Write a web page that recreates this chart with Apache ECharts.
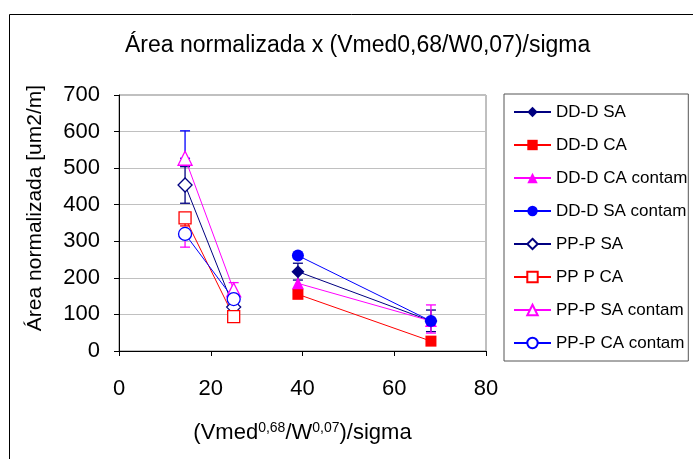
<!DOCTYPE html>
<html>
<head>
<meta charset="utf-8">
<script src="https://cdn.jsdelivr.net/npm/echarts@6/dist/echarts.min.js"></script>
<style>html,body{margin:0;padding:0;background:#fff}#c{width:693px;height:459px}</style>
</head>
<body>
<div id="c"></div>
<script>
// ---- data ----
const seriesNames = ['DD-D SA','DD-D CA','DD-D CA contam','DD-D SA contam','PP-P SA','PP P CA','PP-P SA contam','PP-P CA contam'];
const ddX = [39, 68];
const ppX = [14.4, 25];
const ddSA = [217, 82];
const ddCA = [155, 27];
const ddCAcontam = [185, 82];
const ddSAcontam = [261, 82];
const ppSA = [454, 120];
const ppCA = [364, 94];
const ppSAcontam = [527, 167];
const ppCAcontam = [320, 142];
// error bars: [x, low, high]
const errNavy = [[14.4, 404, 504], [25, 117, 132], [39, 194, 240], [68, 53, 112]];
const errMagenta = [[14.4, 284, 320], [25, 150, 187], [68, 49, 126]];
const errBlue = [[14.4, 527, 602]];
const errRed = [[14.4, 342, 364]];
const xTicks = [0, 20, 40, 60, 80];
const yTicks = [0, 100, 200, 300, 400, 500, 600, 700];

const FONT = '"Liberation Sans", Arial, sans-serif';
const NAVY = '#000080', RED = '#FF0000', MAG = '#FF00FF', BLUE = '#0000FF';

function pts(xs, ys) { return xs.map((x, i) => [x, ys[i]]); }

function lineSeries(name, xs, ys, color, symbol, size, filled) {
  return {
    name, type: 'line', data: pts(xs, ys),
    symbol, symbolSize: size, showSymbol: true,
    lineStyle: { color, width: 1 },
    itemStyle: { color: filled ? color : '#fff', borderColor: color, borderWidth: filled ? 0 : 1.3 },
    emphasis: { disabled: true },
    z: 3
  };
}

function errSeries(data, color) {
  return {
    type: 'custom', data, z: 2, silent: true,
    renderItem: function (params, api) {
      const lo = api.coord([api.value(0), api.value(1)]);
      const hi = api.coord([api.value(0), api.value(2)]);
      const w = 5;
      const st = { stroke: color, lineWidth: 1.3 };
      return {
        type: 'group', children: [
          { type: 'line', shape: { x1: lo[0], y1: lo[1], x2: hi[0], y2: hi[1] }, style: st },
          { type: 'line', shape: { x1: lo[0] - w, y1: lo[1], x2: lo[0] + w, y2: lo[1] }, style: st },
          { type: 'line', shape: { x1: hi[0] - w, y1: hi[1], x2: hi[0] + w, y2: hi[1] }, style: st }
        ]
      };
    }
  };
}

const chart = echarts.init(document.getElementById('c'), null, { renderer: 'canvas' });
chart.setOption({
  animation: false,
  backgroundColor: '#fff',
  textStyle: { fontFamily: FONT },
  title: {
    text: 'Área normalizada x (Vmed0,68/W0,07)/sigma',
    left: 120, top: 29,
    textStyle: { fontFamily: FONT, fontSize: 23, fontWeight: 'normal', color: '#000' }
  },
  graphic: [
    { type: 'rect', shape: { x: 9.5, y: 14.5, width: 720, height: 480 }, style: { fill: 'none', stroke: '#000', lineWidth: 1 }, z: -1 },
    { type: 'text', x: 35, y: 208, rotation: Math.PI / 2,
      style: { text: 'Área normalizada [um2/m]', font: '21px ' + FONT, fill: '#000', align: 'center', verticalAlign: 'middle' } }
  ],
  grid: { left: 119, top: 95, right: 207, bottom: 108, show: true, borderColor: '#808080', borderWidth: 1 },
  legend: {
    data: seriesNames,
    orient: 'vertical', left: 504, top: 94,
    padding: [9, 1, 9, 9],
    itemWidth: 37, itemHeight: 13, itemGap: 15,
    borderColor: '#555', borderWidth: 1,
    textStyle: { fontFamily: FONT, fontSize: 17, color: '#000', lineHeight: 18 },
    selectedMode: false
  },
  xAxis: {
    type: 'value', min: 0, max: 80, interval: 20,
    name: '(Vmed{sup|0,68}/W{sup|0,07})/sigma',
    nameLocation: 'middle', nameGap: 70,
    nameTextStyle: { fontFamily: FONT, fontSize: 22, color: '#000',
      rich: { sup: { fontSize: 14, fontFamily: FONT, color: '#000', verticalAlign: 'top', padding: [0, 0, 10, 0] } } },
    axisLine: { onZero: false, lineStyle: { color: '#000', width: 1 } },
    axisTick: { show: true, inside: false, length: 5, lineStyle: { color: '#000' } },
    axisLabel: { fontFamily: FONT, fontSize: 22, color: '#000', margin: 27 },
    splitLine: { show: false }
  },
  yAxis: {
    type: 'value', min: 0, max: 700, interval: 100,
    axisLine: { show: true, lineStyle: { color: '#000', width: 1 } },
    axisTick: { show: true, inside: false, length: 5, lineStyle: { color: '#000' } },
    axisLabel: { fontFamily: FONT, fontSize: 22, color: '#000', margin: 19 },
    splitLine: { show: true, lineStyle: { color: '#c0c0c0', width: 1 } }
  },
  series: [
    errSeries(errNavy, NAVY),
    errSeries(errMagenta, MAG),
    errSeries(errBlue, BLUE),
    errSeries(errRed, RED),
    lineSeries(seriesNames[0], ddX, ddSA, NAVY, 'diamond', 13, true),
    lineSeries(seriesNames[1], ddX, ddCA, RED, 'rect', 11, true),
    lineSeries(seriesNames[2], ddX, ddCAcontam, MAG, 'triangle', 12, true),
    lineSeries(seriesNames[3], ddX, ddSAcontam, BLUE, 'circle', 12, true),
    lineSeries(seriesNames[4], ppX, ppSA, NAVY, 'diamond', 14, false),
    lineSeries(seriesNames[5], ppX, ppCA, RED, 'rect', 12, false),
    lineSeries(seriesNames[6], ppX, ppSAcontam, MAG, 'triangle', 14, false),
    lineSeries(seriesNames[7], ppX, ppCAcontam, BLUE, 'circle', 13, false)
  ]
});
</script>
</body>
</html>
